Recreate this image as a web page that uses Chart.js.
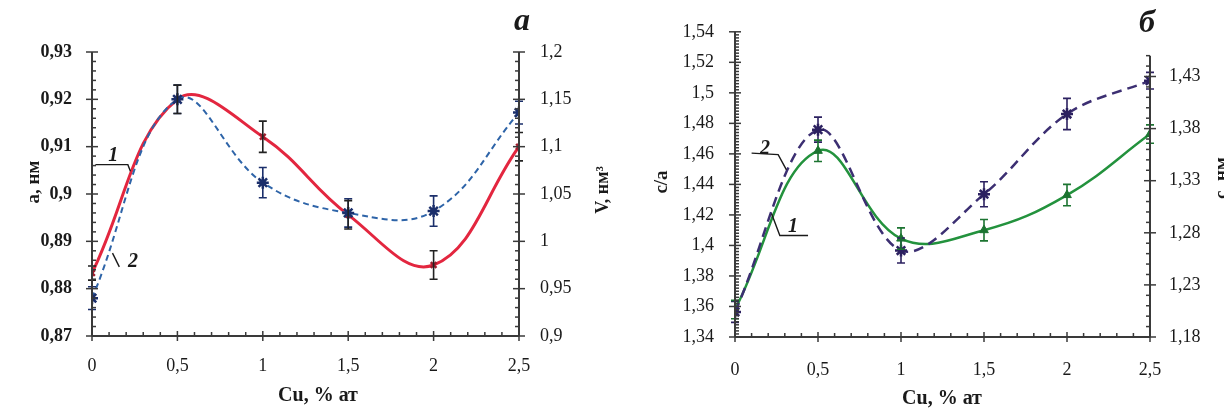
<!DOCTYPE html>
<html>
<head>
<meta charset="utf-8">
<script src="https://cdn.jsdelivr.net/npm/chart.js@4.4.1/dist/chart.umd.min.js"></script>
<style>
  html, body { margin: 0; padding: 0; background: #fff; }
  #wrap { position: relative; width: 1224px; height: 409px; overflow: hidden; }
  .panel { position: absolute; top: 0; width: 612px; height: 409px; }
  #panelA { left: 0; }
  #panelB { left: 612px; }
</style>
</head>
<body>
<div id="wrap">
  <div class="panel" id="panelA"><canvas id="chartA" width="612" height="409"></canvas></div>
  <div class="panel" id="panelB"><canvas id="chartB" width="612" height="409"></canvas></div>
</div>
<script>
// ---- data ----
const cuPercent = [0, 0.5, 1, 1.5, 2, 2.5];

// panel a
const latticeA = [0.8833, 0.9200, 0.9121, 0.8956, 0.8850, 0.9100];
const latticeAErr = [0.0015, 0.003, 0.0033, 0.003, 0.003, 0.003];
const cellVolume = [0.940, 1.150, 1.062, 1.030, 1.032, 1.136];
const cellVolumeErr = [0.012, 0.015, 0.016, 0.015, 0.016, 0.012];

// panel b
const ratioCA = [1.358, 1.462, 1.4045, 1.410, 1.433, 1.473];
const ratioCAErr = [0.006, 0.007, 0.007, 0.007, 0.007, 0.006];
const latticeC = [1.204, 1.379, 1.263, 1.317, 1.394, 1.426];
const latticeCErr = [0.010, 0.012, 0.012, 0.012, 0.015, 0.008];

// tick labels
const xTicks = [0, 0.5, 1, 1.5, 2, 2.5];
const aTicks = [0.87, 0.88, 0.89, 0.9, 0.91, 0.92, 0.93];
const vTicks = [0.9, 0.95, 1, 1.05, 1.1, 1.15, 1.2];
const caTicks = [1.34, 1.36, 1.38, 1.4, 1.42, 1.44, 1.46, 1.48, 1.5, 1.52, 1.54];
const cTicks = [1.18, 1.23, 1.28, 1.33, 1.38, 1.43];

const COLORS = {
  red: '#e3263f',
  redMark: '#9e1d2c',
  blue: '#2e64a8',
  blueMark: '#1b2f6b',
  green: '#23923d',
  greenMark: '#1c7431',
  purple: '#3c2f72',
  purpleMark: '#2c2160',
  axis: '#3a3a3a',
  text: '#1a1a1a',
  err: '#222',
};

const SERIF = '"Liberation Serif", "DejaVu Serif", serif';
const fmt = v => String(v).replace('.', ',');
const pts = ys => cuPercent.map((x, i) => ({ x, y: ys[i] }));

// per-canvas decoration specs (looked up by canvas id in the plugin)
const _specs = {};

// ============================================================
// DECOR PLUGIN — axes with minor ticks, error bars, labels
// ============================================================
const decorPlugin = {
  id: 'panelDecor',
  afterDatasetsDraw(chart) {
    const spec = _specs[chart.canvas.id];
    if (!spec) return;
    const ctx = chart.ctx;
    const area = chart.chartArea;

    // error bars
    chart.data.datasets.forEach((ds, di) => {
      if (!ds.errors) return;
      const meta = chart.getDatasetMeta(di);
      const ys = chart.scales[meta.yAxisID];
      const xs = chart.scales.x;
      ctx.save();
      ctx.strokeStyle = ds.errColor || COLORS.err;
      ctx.lineWidth = 1.6;
      ds.data.forEach((p, i) => {
        const px = xs.getPixelForValue(p.x);
        const y1 = ys.getPixelForValue(p.y + ds.errors[i]);
        const y2 = ys.getPixelForValue(p.y - ds.errors[i]);
        ctx.beginPath();
        ctx.moveTo(px, y1); ctx.lineTo(px, y2);
        ctx.moveTo(px - 4, y1); ctx.lineTo(px + 4, y1);
        ctx.moveTo(px - 4, y2); ctx.lineTo(px + 4, y2);
        ctx.stroke();
      });
      ctx.restore();
    });

    // axes
    ctx.save();
    ctx.strokeStyle = COLORS.axis;
    ctx.lineWidth = 2;
    spec.axes.forEach(ax => {
      const sc = chart.scales[ax.id];
      const top = ax.lineTo != null ? sc.getPixelForValue(ax.lineTo) : null;
      ctx.beginPath();
      if (ax.id === 'x') {
        ctx.moveTo(area.left, area.bottom); ctx.lineTo(area.right, area.bottom);
      } else {
        const xPos = sc.position === 'left' ? area.left : area.right;
        ctx.moveTo(xPos, area.bottom); ctx.lineTo(xPos, top != null ? top : area.top);
      }
      ctx.stroke();

      const end = ax.lineTo != null ? ax.lineTo : sc.max;
      const n = Math.round((end - sc.min) / ax.minor);
      ctx.lineWidth = 1.5;
      for (let k = 0; k <= n; k++) {
        const v = sc.min + k * ax.minor;
        const major = ax.majors.some(m => Math.abs(m - v) < ax.minor / 10);
        const p = sc.getPixelForValue(v);
        ctx.beginPath();
        if (ax.id === 'x') {
          ctx.moveTo(p, area.bottom - (major ? 5 : 4));
          ctx.lineTo(p, area.bottom + (major ? 5 : 0));
        } else if (sc.position === 'left') {
          ctx.moveTo(area.left - (major ? 6 : 0), p);
          ctx.lineTo(area.left + (major ? 6 : 4), p);
        } else {
          ctx.moveTo(area.right + (major ? 6 : 0), p);
          ctx.lineTo(area.right - (major ? 6 : 4), p);
        }
        ctx.stroke();
      }
      ctx.lineWidth = 2;
    });
    ctx.restore();

    // axis titles and panel letter
    ctx.save();
    ctx.fillStyle = COLORS.text;
    ctx.textAlign = 'center';
    ctx.textBaseline = 'middle';
    spec.texts.forEach(t => {
      ctx.save();
      ctx.translate(t.x, t.y);
      if (t.rot) ctx.rotate(t.rot);
      ctx.font = t.font;
      ctx.fillText(t.text, 0, 0);
      ctx.restore();
    });

    // curve callouts, anchored in data units
    spec.callouts.forEach(c => {
      const xs = chart.scales.x;
      const ys = chart.scales[c.axis];
      ctx.strokeStyle = COLORS.text;
      ctx.lineWidth = 1.4;
      ctx.beginPath();
      c.leader.forEach((p, i) => {
        const px = xs.getPixelForValue(p[0]);
        const py = ys.getPixelForValue(p[1]);
        if (i === 0) ctx.moveTo(px, py); else ctx.lineTo(px, py);
      });
      ctx.stroke();
      ctx.font = 'italic bold 20px ' + SERIF;
      ctx.fillText(c.text, xs.getPixelForValue(c.at[0]), ys.getPixelForValue(c.at[1]));
    });
    ctx.restore();
  },
};

Chart.register(decorPlugin);

// ============================================================
// COMMON SCALE BUILDER
// ============================================================
function _scale(opts) {
  return {
    type: 'linear',
    position: opts.position,
    min: opts.min,
    max: opts.max,
    afterBuildTicks: s => { s.ticks = opts.ticks.map(v => ({ value: v })); },
    afterFit: s => {
      if (opts.width != null) s.width = opts.width;
      if (opts.height != null) s.height = opts.height;
    },
    grid: { display: false, drawTicks: false },
    border: { display: false },
    ticks: {
      padding: opts.padding,
      color: COLORS.text,
      font: { family: SERIF, size: 18, weight: opts.bold ? 'bold' : 'normal' },
      callback: v => fmt(v),
    },
  };
}

function _makeChart(canvasId, datasets, scales, padTop) {
  return new Chart(document.getElementById(canvasId), {
    type: 'line',
    data: { datasets },
    options: {
      responsive: false,
      animation: false,
      devicePixelRatio: 1,
      layout: { padding: { top: padTop, left: 0, right: 0, bottom: 0 } },
      plugins: { legend: { display: false }, tooltip: { enabled: false } },
      scales,
    },
  });
}

// ============================================================
// PANEL A — lattice parameter a and cell volume V
// ============================================================
_specs.chartA = {
  axes: [
    { id: 'x', minor: 0.1, majors: xTicks },
    { id: 'yA', minor: 0.002, majors: aTicks },
    { id: 'yV', minor: 0.01, majors: vTicks },
  ],
  texts: [
    { text: 'а, нм', x: 34, y: 182, rot: -Math.PI / 2, font: 'bold 19px ' + SERIF },
    { text: 'V, нм³', x: 603, y: 190, rot: -Math.PI / 2, font: 'bold 18px ' + SERIF },
    { text: 'Cu, % ат', x: 318, y: 396, font: 'bold 20px ' + SERIF },
    { text: 'а', x: 522, y: 22, font: 'italic bold 32px ' + SERIF },
  ],
  callouts: [
    { text: '1', axis: 'yA', at: [0.125, 0.9080], leader: [[0.02, 0.9062], [0.21, 0.9062], [0.225, 0.9048]] },
    { text: '2', axis: 'yA', at: [0.24, 0.8857], leader: [[0.12, 0.8875], [0.16, 0.8846]] },
  ],
};

_makeChart('chartA', [
  {
    data: pts(cellVolume),
    yAxisID: 'yV',
    borderColor: COLORS.blue,
    borderDash: [6, 4],
    borderWidth: 2,
    tension: 0.4,
    pointStyle: 'star',
    pointRadius: 6,
    pointBorderColor: COLORS.blueMark,
    pointBorderWidth: 2.5,
    errors: cellVolumeErr,
    errColor: COLORS.blueMark,
  },
  {
    data: pts(latticeA),
    yAxisID: 'yA',
    borderColor: COLORS.red,
    borderWidth: 3,
    tension: 0.4,
    pointStyle: 'crossRot',
    pointRadius: 4,
    pointBorderColor: COLORS.redMark,
    pointBorderWidth: 2.5,
    errors: latticeAErr,
    errColor: COLORS.err,
  },
], {
  x: _scale({ position: 'bottom', min: 0, max: 2.5, ticks: xTicks, height: 73, padding: 19 }),
  yA: _scale({ position: 'left', min: 0.87, max: 0.93, ticks: aTicks, width: 92, padding: 20, bold: true }),
  yV: _scale({ position: 'right', min: 0.9, max: 1.2, ticks: vTicks, width: 93, padding: 21 }),
}, 52);

// ============================================================
// PANEL B — c/a ratio and lattice parameter c
// ============================================================
_specs.chartB = {
  axes: [
    { id: 'x', minor: 0.1, majors: xTicks },
    { id: 'yCA', minor: 0.002, majors: caTicks },
    { id: 'yC', minor: 0.01, majors: cTicks, lineTo: 1.45 },
  ],
  texts: [
    { text: 'c/a', x: 50, y: 182, rot: -Math.PI / 2, font: 'bold 19px ' + SERIF },
    { text: 'c, нм', x: 610, y: 178, rot: -Math.PI / 2, font: 'bold 19px ' + SERIF },
    { text: 'Cu, % ат', x: 330, y: 399, font: 'bold 20px ' + SERIF },
    { text: 'б', x: 535, y: 24, font: 'italic bold 32px ' + SERIF },
  ],
  callouts: [
    { text: '2', axis: 'yCA', at: [0.18, 1.4635], leader: [[0.10, 1.4605], [0.26, 1.4595], [0.31, 1.4495]] },
    { text: '1', axis: 'yCA', at: [0.35, 1.4125], leader: [[0.22, 1.4210], [0.27, 1.4065], [0.44, 1.4065]] },
  ],
};

_makeChart('chartB', [
  {
    data: pts(latticeC),
    yAxisID: 'yC',
    borderColor: COLORS.purple,
    borderDash: [10, 6],
    borderWidth: 2.5,
    tension: 0.35,
    pointStyle: 'star',
    pointRadius: 6,
    pointBorderColor: COLORS.purpleMark,
    pointBorderWidth: 2.5,
    errors: latticeCErr,
    errColor: COLORS.purpleMark,
  },
  {
    data: pts(ratioCA),
    yAxisID: 'yCA',
    borderColor: COLORS.green,
    borderWidth: 2.5,
    tension: 0.4,
    pointStyle: 'triangle',
    pointRadius: 5,
    pointBackgroundColor: COLORS.greenMark,
    pointBorderColor: COLORS.greenMark,
    pointBorderWidth: 1,
    errors: ratioCAErr,
    errColor: COLORS.greenMark,
  },
], {
  x: _scale({ position: 'bottom', min: 0, max: 2.5, ticks: xTicks, height: 72, padding: 22 }),
  yCA: _scale({ position: 'left', min: 1.34, max: 1.54, ticks: caTicks, width: 123, padding: 21 }),
  yC: _scale({ position: 'right', min: 1.18, max: 1.4729, ticks: cTicks, width: 74, padding: 19 }),
}, 30);
</script>
</body>
</html>
